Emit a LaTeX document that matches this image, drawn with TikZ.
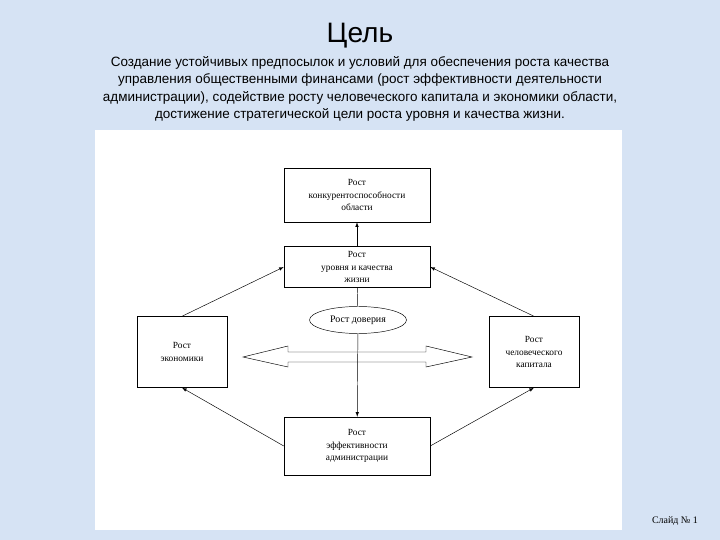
\documentclass[tikz,border=0pt]{standalone}
\usepackage{fontspec}
\setmainfont{Liberation Serif}
\newfontfamily\headfont{Liberation Sans}
\usetikzlibrary{arrows,positioning,shapes.geometric}
\definecolor{slidebg}{RGB}{214,227,244}

\begin{document}
\begin{tikzpicture}[x=0.03cm,y=-0.03cm,
box/.style={
		draw=black,
		fill=white,
		minimum width=146*0.03cm,
		align=center,
		font=\fontsize{8}{10.5}\selectfont,
		},
sidebox/.style={
		box,
		minimum width=90*0.03cm,
		minimum height=71*0.03cm,
		},
link/.style={->, >=latex, thin}
]

\fill[slidebg] (0,0) rectangle (720,540);
\useasboundingbox (0,0) rectangle (720,540);
\fill[white] (95,130) rectangle (622,530);

\node[font=\headfont\fontsize{24}{28}\selectfont] (title) at (360,36) {Цель};
\node[font=\headfont\fontsize{11.5}{15}\selectfont, align=center] (goal) at (360,89)
  {Создание устойчивых предпосылок и условий для обеспечения роста качества\\
   управления общественными финансами (рост эффективности деятельности\\
   администрации), содействие росту человеческого капитала и экономики области,\\
   достижение стратегической цели роста уровня и качества жизни.};

% exchange arrow
\draw[thin, fill=white] (243,357) -- (288,346) -- (288,352) -- (426,352) -- (426,346)
  -- (472,357) -- (426,367) -- (426,362) -- (288,362) -- (288,367) -- cycle;

% boxes
\node[box, minimum height=54*0.03cm] (compet) at (357,195) {Рост\\конкурентоспособности\\области};
\node[box, minimum height=41*0.03cm] (level) at (357,267) {Рост\\уровня и качества\\жизни};
\node[box, minimum height=58*0.03cm] (admin) at (357,446) {Рост\\эффективности\\администрации};
\node[sidebox] (econ) at (182,352) {Рост\\экономики};
\node[sidebox] (human) at (534,352) {Рост\\человеческого\\капитала};
\node[draw, ellipse, fill=white, minimum width=97*0.03cm, minimum height=27*0.03cm,
  font=\fontsize{8.5}{10}\selectfont] (trust) at (358,320) {Рост доверия};

% connectors
\draw[link] (level) -- (compet);
\draw (level) -- (trust);
\draw[link] (trust) -- (admin);
\draw[link] (econ.north) -- (level.west);
\draw[link] (human.north) -- (level.east);
\draw[link] (admin.west) -- (econ.south);
\draw[link] (admin.east) -- (human.south);

\node[font=\fontsize{8.5}{10}\selectfont] (slide) at (675,521) {Слайд № 1};
\end{tikzpicture}
\end{document}
